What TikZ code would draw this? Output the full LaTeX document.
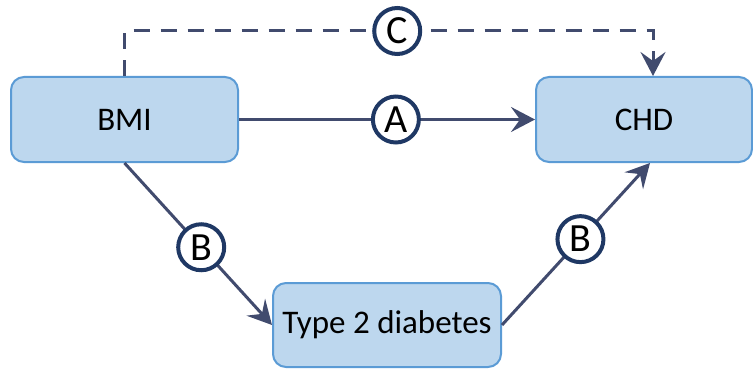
\documentclass[tikz,border=0pt]{standalone}
\usepackage{fontspec}
\setmainfont{Carlito}
\usetikzlibrary{arrows.meta}
\definecolor{boxfill}{HTML}{BDD7EE}
\definecolor{boxline}{HTML}{5B9BD5}
\definecolor{linkcol}{HTML}{414B6E}
\definecolor{ringcol}{HTML}{1F3864}

\begin{document}
\begin{tikzpicture}[x=0.5pt,y=-0.5pt,
        box/.style={rectangle,rounded corners=6.5pt,draw=boxline,fill=boxfill,line width=1pt,
                    minimum height=42.5pt,inner sep=0pt,font=\fontsize{16.5}{20}\selectfont},
        link/.style={draw=linkcol,line width=1.5pt,-{Stealth[length=12pt,width=12.5pt,inset=4.5pt]}},
        dashlink/.style={link,dash pattern=on 8pt off 5.5pt},
        ring/.style={circle,solid,draw=ringcol,line width=2pt,fill=white,text=black,
                     minimum size=23pt,inner sep=0pt,font=\fontsize{20}{22}\selectfont}]
        \useasboundingbox (0,0) rectangle (753,369);
        % boxes
        \node[box,minimum width=113.5pt] (bmi) at (124.5,119.5) {BMI};
        \node[box,minimum width=108pt] (chd) at (644,119.5) {CHD};
        \node[box,minimum width=114pt,minimum height=42pt] (t2d) at (387,325) {Type 2 diabetes};
        % paths
        \coordinate (lt) at (124.5,31);
        \coordinate (rt) at (653,31);
        \draw[dashlink] (bmi.north) -- (lt) -- node[ring,pos=0.516] (ringC) {C} (rt) -- (rt |- chd.north);
        \draw[link] (bmi) -- node[ring,pos=0.53] (ringA) {A} (chd);
        \draw[link] (bmi.south) -- node[ring,pos=0.52] (ringB1) {B} (t2d.west);
        \draw[link] (t2d.east) -- node[ring,pos=0.53] (ringB2) {B} ([xshift=3pt]chd.south);
\end{tikzpicture}
\end{document}
